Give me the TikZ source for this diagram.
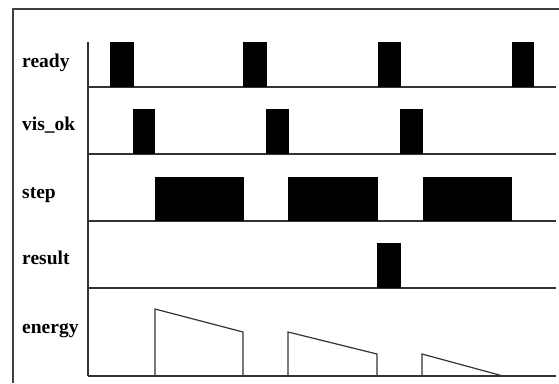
\documentclass[tikz,border=0pt]{standalone}
\usepackage{fontspec}
\setmainfont{Liberation Serif}
\usepackage{tikz}
\usetikzlibrary{positioning}

\begin{document}
\begin{tikzpicture}[
  x=1pt, y=-1pt,
  font=\fontsize{19.5}{21}\selectfont\bfseries,
  sig/.style={anchor=base west, inner sep=0pt},
  base/.style={line width=1.2pt, draw=black!80},
  pulse/.style={fill=black},
  ramp/.style={line width=1.2pt, draw=black!80, line join=miter},
  frame/.style={line width=1.1pt, draw=black!75},
]
\useasboundingbox (0,0) rectangle (559,383);
% outer frame (cut at right and bottom)
\draw[frame] (13,383) -- (13,9) -- (559,9);
% signal names
\node[sig] (ready) at (22,67) {ready};
\node[sig] (visok) at (22,130) {vis\_ok};
\node[sig] (step) at (22,198) {step};
\node[sig] (result) at (22,264) {result};
\node[sig] (energy) at (22,333) {energy};
% time axis and baselines
\draw[base] (88,42) -- (88,376);
\draw[base] (88,87) -- (556,87);
\draw[base] (88,154) -- (556,154);
\draw[base] (88,221) -- (556,221);
\draw[base] (88,288) -- (556,288);
\draw[base] (88,376) -- (556,376);
% ready
\fill[pulse] (110,42) rectangle (134,87);
\fill[pulse] (243,42) rectangle (267,87);
\fill[pulse] (378,42) rectangle (401,87);
\fill[pulse] (512,42) rectangle (534,87);
% vis_ok
\fill[pulse] (133,109) rectangle (155,154);
\fill[pulse] (266,109) rectangle (289,154);
\fill[pulse] (400,109) rectangle (423,154);
% step
\fill[pulse] (155,177) rectangle (244,221);
\fill[pulse] (288,177) rectangle (378,221);
\fill[pulse] (423,177) rectangle (512,221);
% result
\fill[pulse] (377,243) rectangle (401,288);
% energy
\draw[ramp] (155,376) -- (155,309) -- (243,332) -- (243,376);
\draw[ramp] (288,376) -- (288,332) -- (377,354) -- (377,376);
\draw[ramp] (422,376) -- (422,354) -- (503,376);
\end{tikzpicture}
\end{document}
